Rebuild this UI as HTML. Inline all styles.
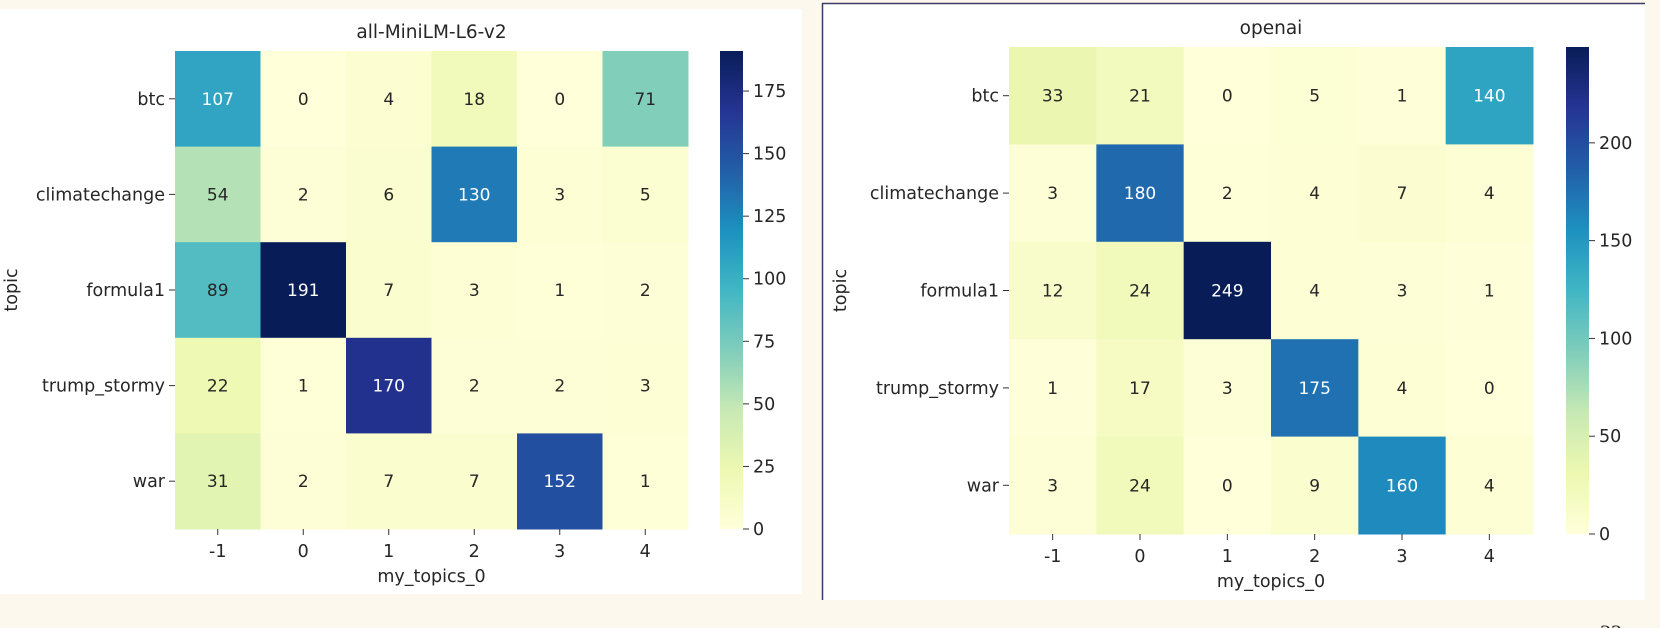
<!DOCTYPE html>
<html><head><meta charset="utf-8">
<style>
body{margin:0;background:#fdf8ee;width:1660px;height:628px;overflow:hidden;font-family:"DejaVu Sans","Liberation Sans",sans-serif;}
svg{position:absolute;left:0;top:0}
</style></head>
<body>
<svg id="c" width="1660" height="628" xmlns="http://www.w3.org/2000/svg"></svg>
<script>
const rowsLabels = ["btc","climatechange","formula1","trump_stormy","war"];
const colLabels = ["-1","0","1","2","3","4"];
const leftValues = [
  [107,0,4,18,0,71],
  [54,2,6,130,3,5],
  [89,191,7,3,1,2],
  [22,1,170,2,2,3],
  [31,2,7,7,152,1]
];
const rightValues = [
  [33,21,0,5,1,140],
  [3,180,2,4,7,4],
  [12,24,249,4,3,1],
  [1,17,3,175,4,0],
  [3,24,0,9,160,4]
];
const leftTicks = [0,25,50,75,100,125,150,175];
const rightTicks = [0,50,100,150,200];

const NS="http://www.w3.org/2000/svg";
const svg=document.getElementById('c');
const pal=["#ffffd9","#edf8b1","#c7e9b4","#7fcdbb","#41b6c4","#1d91c0","#225ea8","#253494","#081d58"];
function hex(h){return [1,3,5].map(i=>parseInt(h.substr(i,2),16));}
function cmap(t){t=Math.max(0,Math.min(1,t));const p=t*8;const i=Math.min(7,Math.floor(p));const f=p-i;const a=hex(pal[i]),b=hex(pal[i+1]);
 const c=a.map((v,k)=>Math.round(v+(b[k]-v)*f));return {css:`rgb(${c})`,lum:(0.299*c[0]+0.587*c[1]+0.114*c[2])/255};}
function el(tag,attrs,parent,text){const e=document.createElementNS(NS,tag);for(const k in attrs)e.setAttribute(k,attrs[k]);if(text!==undefined)e.textContent=text;(parent||svg).appendChild(e);return e;}
const FS=17.5;
function panel(cfg){
 const g=el('g',{});
 
 
 const bg=el('rect',{x:cfg.px,y:cfg.py,width:cfg.pw,height:cfg.ph,fill:'#fff'},g);
 
 
 if(cfg.border){
  const b1=el('line',{x1:cfg.px+0.5,y1:cfg.py,x2:cfg.px+0.5,y2:cfg.py+cfg.ph,stroke:'#3a3a66','stroke-width':1.5},g);
  
  
  const b2=el('line',{x1:cfg.px,y1:cfg.py+0.5,x2:cfg.px+cfg.pw,y2:cfg.py+0.5,stroke:'#3a3a66','stroke-width':1.5},g);
  
  
 }
 const vals=cfg.values;const vmax=Math.max(...vals.flat());
 const cw=(cfg.x1-cfg.x0)/colLabels.length, ch=(cfg.y1-cfg.y0)/rowsLabels.length;
 const xs=j=>cfg.x0+j*cw, ys=i=>cfg.y0+i*ch;
 vals.forEach((row,i)=>row.forEach((v,j)=>{
  const c=cmap(v/vmax);
  const r=el('rect',{x:xs(j),y:ys(i),width:cw+0.5,height:ch+0.5,fill:c.css},g);
  
  
  const t=el('text',{x:xs(j)+cw/2,y:ys(i)+ch/2+6,'text-anchor':'middle','font-size':17,fill:c.lum<0.6?'#fff':'#262626'},g,String(v));
  
  
 }));
 rowsLabels.forEach((l,i)=>{
  const y=ys(i)+ch/2;
  el('line',{x1:cfg.x0-6,y1:y,x2:cfg.x0,y2:y,stroke:'#333','stroke-width':1},g);
  const t=el('text',{x:cfg.x0-10,y:y+6,'text-anchor':'end','font-size':FS,fill:'#262626'},g,l);
  
  
 });
 colLabels.forEach((l,j)=>{
  const x=xs(j)+cw/2;
  el('line',{x1:x,y1:cfg.y1,x2:x,y2:cfg.y1+6,stroke:'#333','stroke-width':1},g);
  const t=el('text',{x:x,y:cfg.y1+28,'text-anchor':'middle','font-size':FS,fill:'#262626'},g,l);
  
  
 });
 const xt=el('text',{x:(cfg.x0+cfg.x1)/2,y:cfg.y1+53,'text-anchor':'middle','font-size':FS,fill:'#262626'},g,'my_topics_0');
 
 
 const yt=el('text',{x:0,y:0,'text-anchor':'middle','font-size':FS,fill:'#262626',transform:`translate(${cfg.ylabX},${(cfg.y0+cfg.y1)/2}) rotate(-90)`},g,'topic');
 
 
 const tt=el('text',{x:(cfg.x0+cfg.x1)/2,y:cfg.y0-13,'text-anchor':'middle','font-size':18.5,fill:'#262626'},g,cfg.title);
 
 
 const gid='grad'+cfg.name;
 const defs=el('defs',{},g);const lg=el('linearGradient',{id:gid,x1:0,y1:1,x2:0,y2:0},defs);
 for(let k=0;k<=8;k++)el('stop',{offset:k/8,'stop-color':pal[k]},lg);
 const cb=el('rect',{x:cfg.cbx,y:cfg.y0,width:23,height:cfg.y1-cfg.y0,fill:`url(#${gid})`},g);
 
 
 const cy=v=>cfg.y1-(v/vmax)*(cfg.y1-cfg.y0);
 cfg.ticks.forEach(v=>{
  const y=cy(v);
  el('line',{x1:cfg.cbx+23,y1:y,x2:cfg.cbx+29,y2:y,stroke:'#333','stroke-width':1},g);
  const t=el('text',{x:cfg.cbx+33,y:y+6,'font-size':FS,fill:'#262626'},g,String(v));
  
  
 });
}
panel({name:'minilm-heatmap',title:'all-MiniLM-L6-v2',values:leftValues,ticks:leftTicks,px:0,py:9,pw:802,ph:585,x0:175,x1:688,y0:51,y1:529,cbx:720,ylabX:17,border:false});
panel({name:'openai-heatmap',title:'openai',values:rightValues,ticks:rightTicks,px:822,py:3,pw:823,ph:597,x0:1009,x1:1533,y0:47,y1:534,cbx:1566,ylabX:846,border:true});
const pn=el('text',{x:1600,y:640,'font-size':22,'font-family':'Liberation Serif,serif',fill:'#222'},svg,'32');


</script>
</body></html>
